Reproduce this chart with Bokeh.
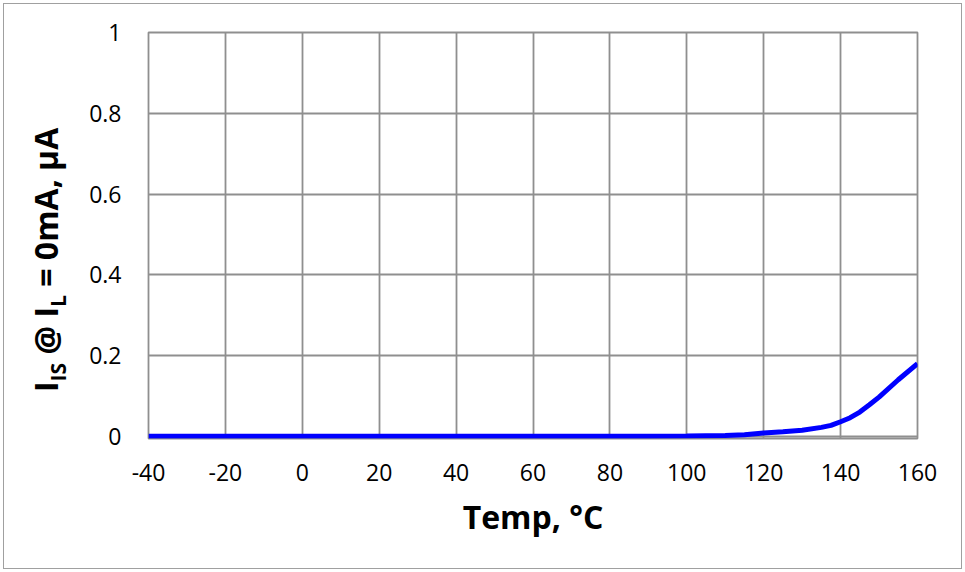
from bokeh.embed import file_html
from bokeh.layouts import row
from bokeh.models import Div, FixedTicker, Range1d
from bokeh.plotting import figure
from bokeh.resources import INLINE

# Leakage current of the IS pin at zero load versus junction temperature
temp_c = [-40, -30, -20, -10, 0, 10, 20, 30, 40, 50, 60, 70, 80, 90,
          100, 110, 115, 120, 125, 130, 135, 137.5, 140, 142.5, 145,
          147.5, 150, 155, 160]
i_is_ua = [0, 0, 0, 0, 0, 0, 0, 0, 0, 0, 0, 0, 0, 0,
           0.0005, 0.002, 0.004, 0.008, 0.011, 0.015, 0.022, 0.027, 0.036, 0.046, 0.06,
           0.078, 0.097, 0.14, 0.18]

x_ticks = [-40, -20, 0, 20, 40, 60, 80, 100, 120, 140, 160]
x_tick_labels = ["-40", "-20", "0", "20", "40", "60", "80", "100", "120", "140", "160"]
y_ticks = [0, 0.2, 0.4, 0.6, 0.8, 1]
y_tick_labels = ["0", "0.2", "0.4", "0.6", "0.8", "1"]

x_title = "Temp, °C"
y_title_html = "I<sub>IS</sub> @ I<sub>L</sub> = 0mA, µA"

FONT = "Open Sans"
GRID = "#8f8f8f"

p = figure(
    width=891, height=564,
    x_range=Range1d(-40, 160), y_range=Range1d(-0.0055, 1),
    output_backend="svg", toolbar_location=None,
    min_border_left=78, min_border_right=44,
    min_border_top=28, min_border_bottom=130,
    background_fill_color="white", border_fill_color="white",
    margin=0,
)
p.outline_line_color = GRID
p.outline_line_width = 1.8

p.line(temp_c, i_is_ua, line_color="#0000ff", line_width=5)

for ax in (p.xaxis, p.yaxis):
    ax.axis_line_color = None
    ax.major_tick_line_color = None
    ax.minor_tick_line_color = None
    ax.major_label_text_font = FONT
    ax.major_label_text_font_size = "23px"
    ax.major_label_text_color = "black"

p.xaxis.ticker = FixedTicker(ticks=x_ticks)
p.xaxis.major_label_overrides = dict(zip(x_ticks, x_tick_labels))
p.xaxis.major_label_standoff = 19
p.xaxis.axis_label = x_title
p.xaxis.axis_label_text_font = FONT
p.xaxis.axis_label_text_font_style = "bold"
p.xaxis.axis_label_text_font_size = "32px"
p.xaxis.axis_label_text_color = "black"
p.xaxis.axis_label_standoff = 11

p.yaxis.ticker = FixedTicker(ticks=y_ticks)
p.yaxis.major_label_overrides = dict(zip(y_ticks, y_tick_labels))
p.yaxis.major_label_standoff = 21

p.xgrid.ticker = FixedTicker(ticks=x_ticks)
p.ygrid.ticker = FixedTicker(ticks=y_ticks)
for g in (p.xgrid, p.ygrid):
    g.grid_line_color = GRID
    g.grid_line_width = 1.8

# vertical y title with real subscripts, set beside the plot
title_div = Div(
    width=66, height=564, margin=0,
    text=(
        '<div style="position:absolute; left:26px; top:388px; '
        'transform-origin:0 0; transform:rotate(-90deg); white-space:nowrap; '
        f"font-family:'{FONT}'; font-weight:bold; font-size:32px; line-height:32px; "
        'color:black;">'
        + y_title_html.replace("<sub>", '<sub style="font-size:21px; vertical-align:-8px; line-height:0;">')
        + "</div>"
    ),
    styles={"position": "relative", "overflow": "visible"},
)

chart = row(title_div, p, styles={
    "border": "1px solid #a0a0a0", "margin": "3px 0 0 3px", "background": "white",
})

open("out.html", "w").write(file_html(chart, INLINE))
